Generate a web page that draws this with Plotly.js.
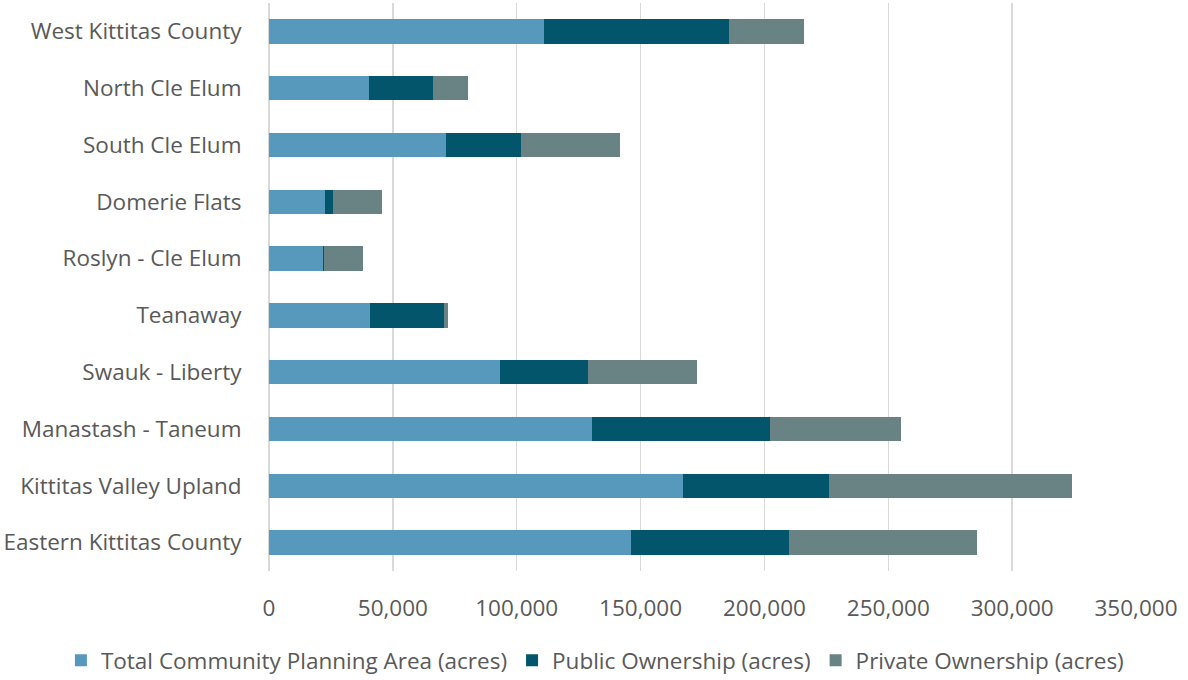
<!DOCTYPE html>
<html>
<head>
<meta charset="utf-8">
<script src="https://cdn.plot.ly/plotly-3.0.1.min.js"></script>
<style>html,body{margin:0;padding:0;background:#fff;}#chart{width:1188px;height:680px;}</style>
</head>
<body>
<div id="chart"></div>
<script>
var categories = ["West Kittitas County","North Cle Elum","South Cle Elum","Domerie Flats","Roslyn - Cle Elum","Teanaway","Swauk - Liberty","Manastash - Taneum","Kittitas Valley Upland","Eastern Kittitas County"];
var totalArea = [111000, 40500, 71400, 22800, 21700, 40900, 93300, 130200, 167300, 146000];
var publicOwn = [74500, 25900, 30500, 3200, 700, 29600, 35400, 72200, 58800, 64000];
var privateOwn = [30500, 14000, 39700, 19500, 15600, 1900, 44100, 52700, 98200, 75700];
var seriesNames = ["Total Community Planning Area (acres)","Public Ownership (acres)","Private Ownership (acres)"];
var xTicks = [0,50000,100000,150000,200000,250000,300000,350000];
var xTickText = ["0","50,000","100,000","150,000","200,000","250,000","300,000","350,000"];

var colors = ["#5799bd","#02556a","#698283"];
var series = [totalArea, publicOwn, privateOwn];
var data = series.map(function(v,i){
  return {type:'bar', orientation:'h', name:seriesNames[i], y:categories, x:v,
    marker:{color:colors[i], line:{width:0}}, hoverinfo:'x+name'};
});
var fontFam = "'Open Sans', 'Noto Sans', sans-serif";
var fs = 22.5;
var layout = {
  width:1188, height:680,
  margin:{l:269, r:52, t:3, b:109, autoexpand:false},
  barmode:'stack', bargap:0.57,
  paper_bgcolor:'#fff', plot_bgcolor:'#fff',
  font:{family:fontFam, size:fs, color:'#595959'},
  xaxis:{range:[0,350000], tickvals:xTicks, ticktext:xTickText, showgrid:true, gridcolor:'#d9d9d9', gridwidth:1.5,
    zeroline:true, zerolinecolor:'#d9d9d9', zerolinewidth:1.5, ticks:'outside', ticklen:17, tickcolor:'rgba(0,0,0,0)',
    tickfont:{size:fs, color:'#595959'}, fixedrange:true},
  yaxis:{autorange:'reversed', showgrid:false, zeroline:false, ticks:'outside', ticklen:22, tickcolor:'rgba(0,0,0,0)',
    tickfont:{size:fs, color:'#595959'}, showline:false},
  showlegend:true,
  legend:{orientation:'h', xref:'paper', yref:'paper', x:-0.24, xanchor:'left', y:-0.158, yanchor:'middle',
    traceorder:'normal', font:{size:fs, color:'#595959'}, itemwidth:30}
};
Plotly.newPlot('chart', data, layout, {displayModeBar:false, staticPlot:true});
</script>
</body>
</html>
